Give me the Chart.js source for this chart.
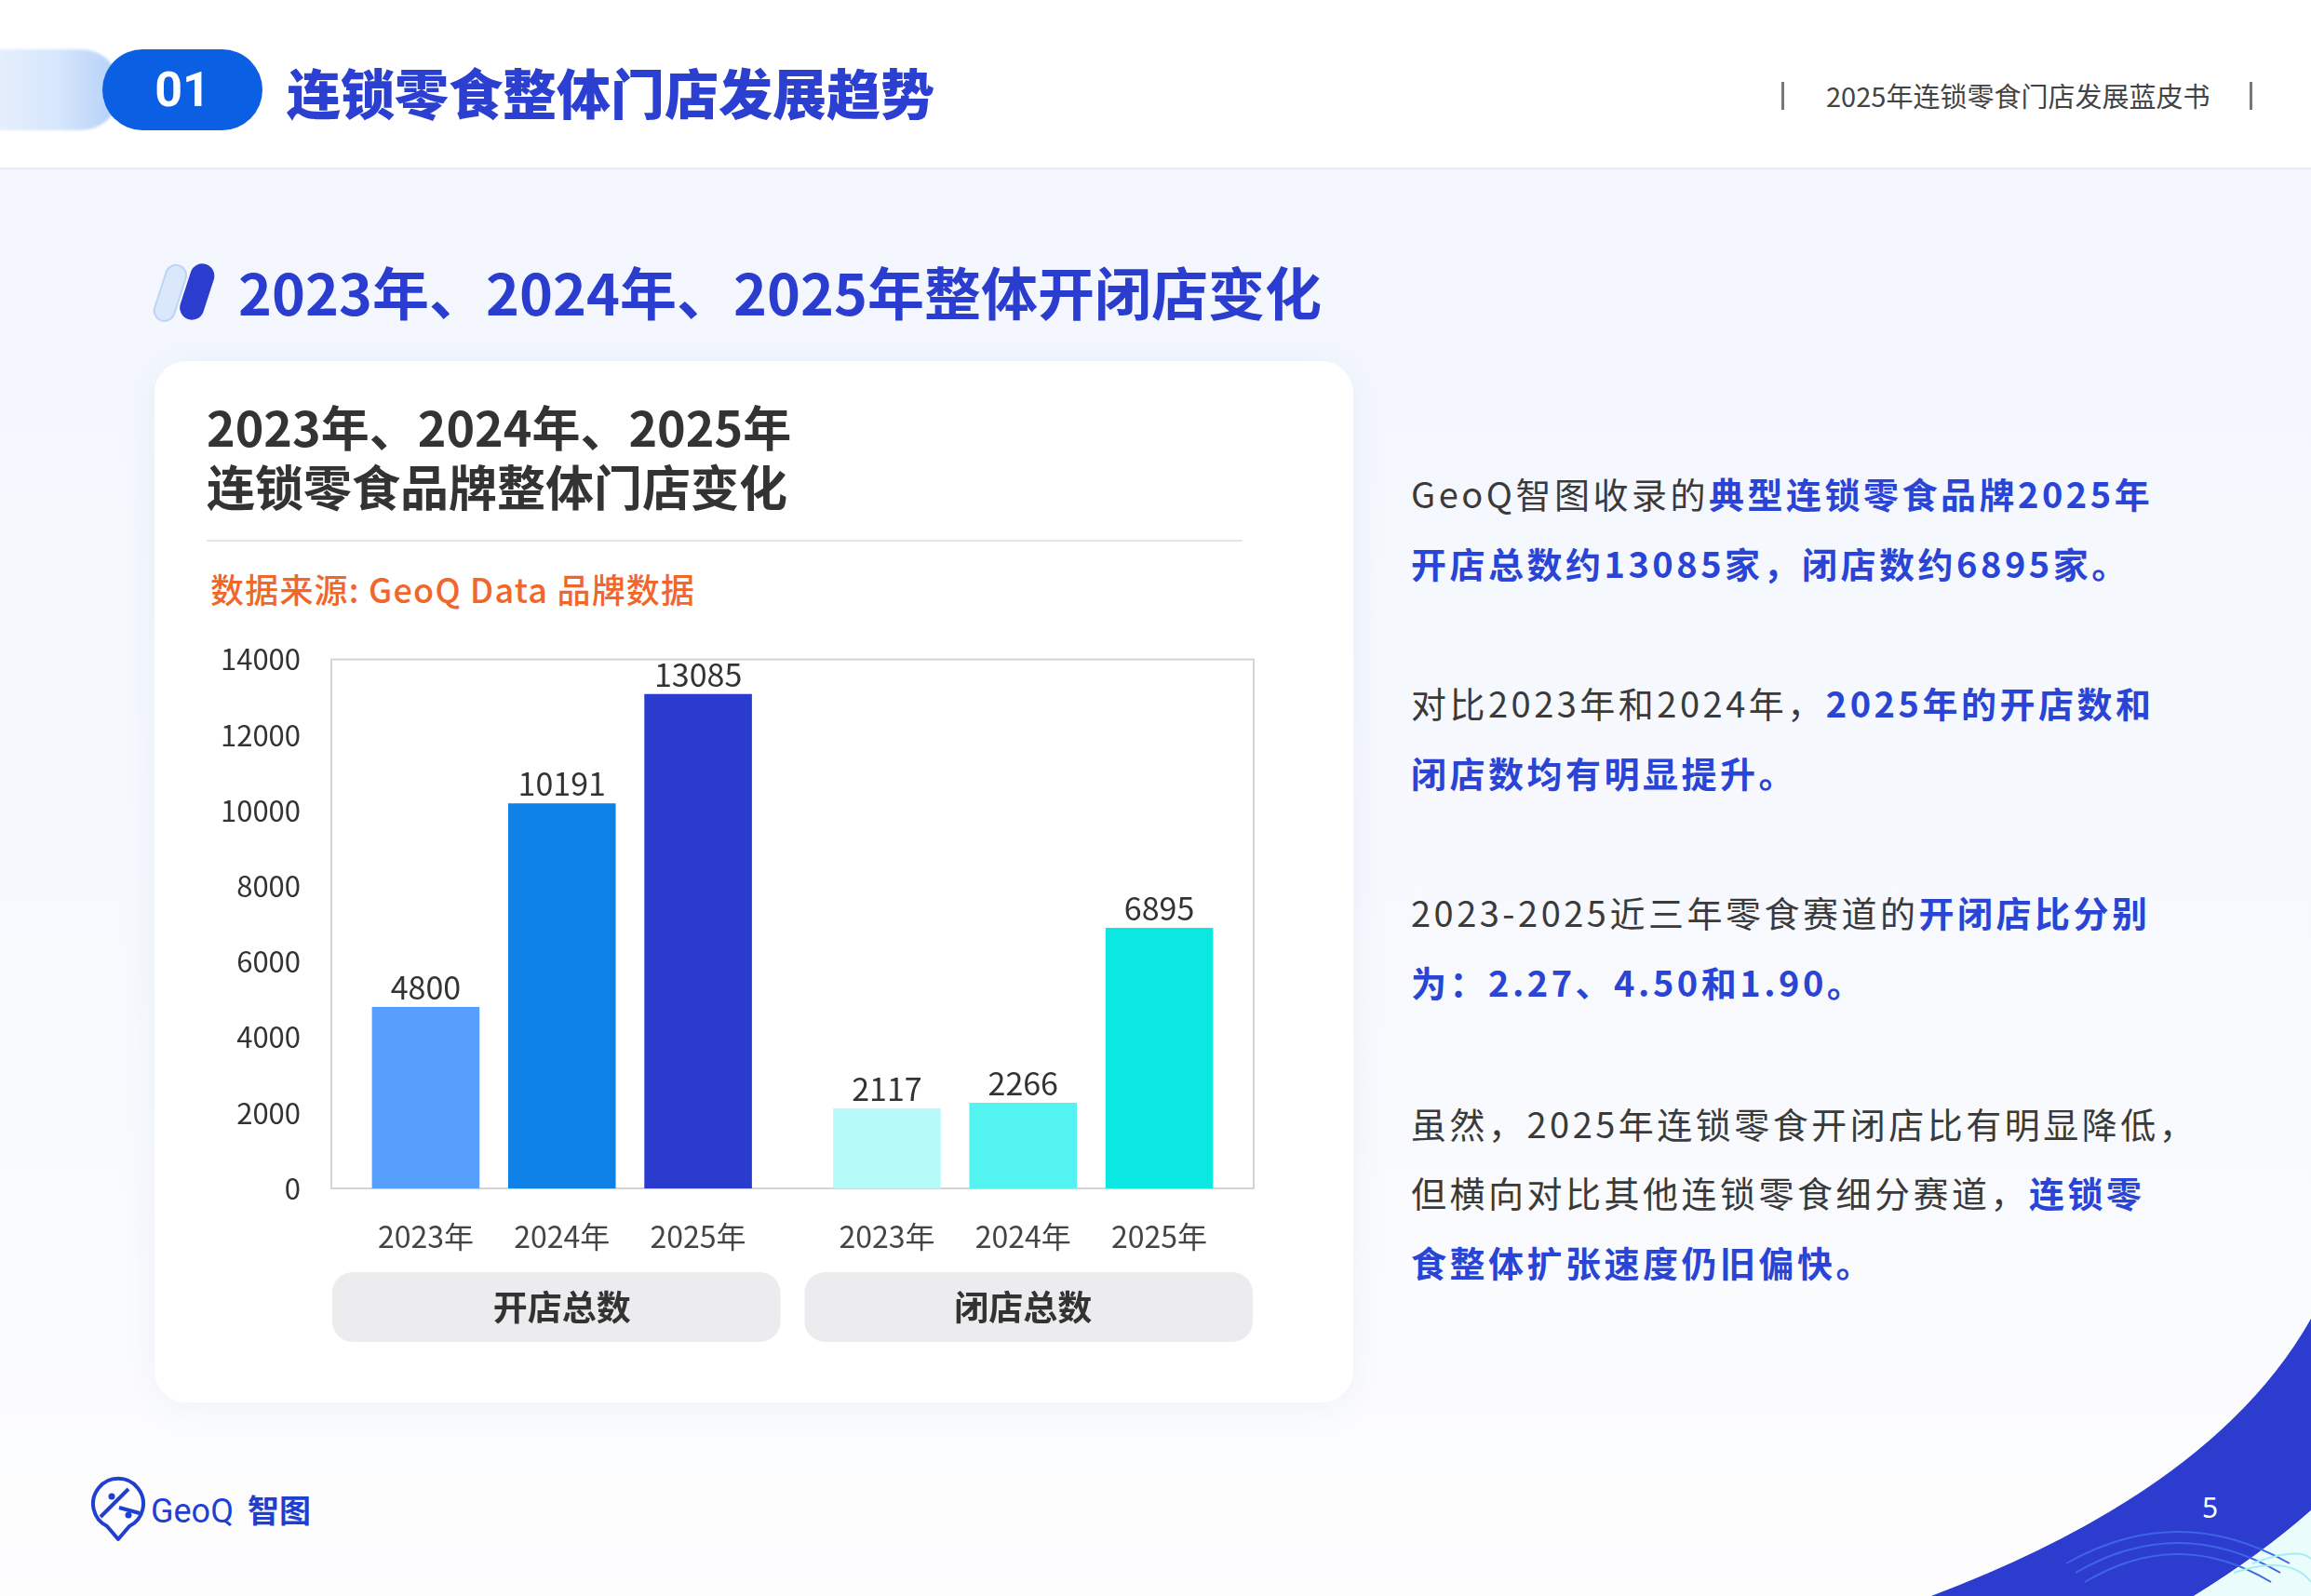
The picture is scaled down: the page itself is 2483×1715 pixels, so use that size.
<!DOCTYPE html>
<html lang="zh-CN">
<head>
<meta charset="utf-8">
<title>2023年、2024年、2025年整体开闭店变化</title>
<script src="https://cdn.jsdelivr.net/npm/chart.js@4.4.1/dist/chart.umd.min.js"></script>
<style>
  html, body { margin: 0; padding: 0; }
  body {
    width: 2483px; height: 1715px; overflow: hidden; position: relative;
    font-family: "Noto Sans CJK SC", "Noto Sans", sans-serif;
    background: #ffffff;
  }
  .panel {
    position: absolute; left: 0; top: 180px; width: 2483px; height: 1535px;
    background: linear-gradient(180deg, #f3f7fd 0%, #f7f9fd 55%, #fdfdfe 100%);
    border-top: 2px solid #e2ebf8;
  }
  .pill-light {
    position: absolute; left: -40px; top: 53px; width: 170px; height: 87px;
    border-radius: 44px;
    background: linear-gradient(90deg, #eef4fd 0%, #d6e6fb 60%, #b2cff7 100%);
    filter: blur(1.5px);
  }
  .pill-dark {
    position: absolute; left: 110px; top: 53px; width: 172px; height: 87px;
    border-radius: 44px; background: #0b5fe2;
    color: #fff; font-weight: 700; font-size: 52px; line-height: 87px; text-align: center;
    font-family: "Roboto", "Noto Sans", sans-serif;
  }
  .h-title {
    position: absolute; left: 308px; top: 58px; font-size: 58px; font-weight: 900;
    color: #2b3fd1; line-height: 80px; white-space: nowrap;
  }
  .h-right {
    position: absolute; left: 1962px; top: 82px; font-size: 29px; color: #444;
    line-height: 40px; white-space: nowrap;
  }
  .h-bar { position: absolute; top: 88px; width: 3px; height: 30px; background: #777; }
  .sec-title {
    position: absolute; left: 256px; top: 273px; font-size: 61px; font-weight: 700;
    color: #2a3dcf; line-height: 80px; white-space: nowrap;
  }
  .card {
    position: absolute; left: 166px; top: 388px; width: 1288px; height: 1119px;
    background: #ffffff; border-radius: 34px;
    box-shadow: 0 4px 40px rgba(60, 100, 180, 0.07);
  }
  .card-title {
    position: absolute; left: 222px; top: 426px; font-size: 52px; font-weight: 700;
    color: #333333; line-height: 64px; white-space: nowrap;
  }
  .divider { position: absolute; left: 222px; top: 580px; width: 1113px; height: 2px; background: #e6e6e6; }
  .source {
    position: absolute; left: 226px; top: 609px; font-size: 36px; font-weight: 500;
    color: #f0672b; line-height: 46px; white-space: nowrap; letter-spacing: 1.2px;
  }
  #chartWrap { position: absolute; left: 200px; top: 657px; width: 1200px; height: 803px; }
  .txt {
    position: absolute; left: 1516px; font-size: 38px; line-height: 75px; color: #3a3a3a;
    white-space: nowrap; letter-spacing: 3.5px;
  }
  .txt b { color: #2a44d6; font-weight: 700; }
  .logo { position: absolute; left: 98px; top: 1586px; }
  .page-no {
    position: absolute; left: 2366px; top: 1598px; font-size: 30px; color: #fff;
    font-family: "Noto Sans", sans-serif; line-height: 44px;
  }
</style>
</head>
<body>
<div class="panel"></div>

<!-- header -->
<div class="pill-light"></div>
<div class="pill-dark">01</div>
<div class="h-title">连锁零食整体门店发展趋势</div>
<div class="h-bar" style="left:1914px"></div>
<div class="h-right">2025年连锁零食门店发展蓝皮书</div>
<div class="h-bar" style="left:2417px"></div>

<!-- section title -->
<svg style="position:absolute;left:158px;top:270px" width="80" height="90">
  <rect x="0" y="0" width="22" height="62" rx="11" fill="#dbe8fb" stroke="#bcd4f6" stroke-width="2" transform="translate(24,12) rotate(18)"/>
  <rect x="0" y="0" width="26" height="62" rx="13" fill="#2a3dcf" transform="translate(51,10) rotate(18)"/>
</svg>
<div class="sec-title">2023年、2024年、2025年整体开闭店变化</div>

<!-- card -->
<div class="card"></div>
<div class="card-title">2023年、2024年、2025年<br>连锁零食品牌整体门店变化</div>
<div class="divider"></div>
<div class="source">数据来源: GeoQ Data 品牌数据</div>
<div id="chartWrap"><canvas id="storeChart"></canvas></div>

<!-- right text -->
<div class="txt" style="top:492px">GeoQ智图收录的<b>典型连锁零食品牌2025年</b></div>
<div class="txt" style="top:567px"><b>开店总数约13085家，闭店数约6895家。</b></div>
<div class="txt" style="top:717px">对比2023年和2024年，<b>2025年的开店数和</b></div>
<div class="txt" style="top:792px"><b>闭店数均有明显提升。</b></div>
<div class="txt" style="top:942px">2023-2025近三年零食赛道的<b>开闭店比分别</b></div>
<div class="txt" style="top:1017px"><b>为：2.27、4.50和1.90。</b></div>
<div class="txt" style="top:1169px">虽然，2025年连锁零食开闭店比有明显降低，</div>
<div class="txt" style="top:1243px">但横向对比其他连锁零食细分赛道，<b>连锁零</b></div>
<div class="txt" style="top:1318px"><b>食整体扩张速度仍旧偏快。</b></div>

<!-- logo -->
<svg class="logo" width="250" height="72">
  <path d="M29 68 L17 54 A27 27 0 1 1 41 54 Z" fill="none" stroke="#1f3fd0" stroke-width="4" stroke-linejoin="round"/>
  <path d="M10 44 L40 14 M30 34 L52 40" stroke="#1f3fd0" stroke-width="4" fill="none"/>
  <circle cx="22" cy="22" r="3.5" fill="#1f3fd0"/>
  <circle cx="40" cy="42" r="3.5" fill="#1f3fd0"/>
  <text x="64" y="50" font-size="36" font-family="Roboto, Noto Sans, sans-serif" fill="#1f3fd0">GeoQ</text>
  <text x="168" y="50" font-size="34" font-weight="700" font-family="Noto Sans CJK SC" fill="#1f3fd0">智图</text>
</svg>

<!-- corner swoosh -->
<svg style="position:absolute;left:2040px;top:1400px" width="443" height="315">
  <path d="M35 315 Q340 200 443 17 L443 223 Q390 270 317 315 Z" fill="#2b3ccf"/>
  <path d="M317 315 Q390 270 443 223 L443 315 Z" fill="#eafcfc"/>
  <g fill="none" stroke="#3f64e6" stroke-width="2">
    <path d="M200 300 Q300 240 400 300"/>
    <path d="M190 290 Q300 226 410 290"/>
    <path d="M180 280 Q300 212 420 280"/>
  </g>
  <g fill="none" stroke="#a7eef0" stroke-width="2">
    <path d="M360 290 Q420 270 443 300"/>
    <path d="M380 280 Q430 262 443 275"/>
  </g>
</svg>
<div class="page-no">5</div>

<script>
// chart data
const groups = ['开店总数', '闭店总数'];
const years = ['2023年', '2024年', '2025年'];
const openStores = [4800, 10191, 13085];
const closeStores = [2117, 2266, 6895];
const yMax = 14000;
const yStep = 2000;

const openColors = ['#579ffd', '#0f82e8', '#2b3bcd'];
const closeColors = ['#b6fafa', '#52f3f1', '#0be8e2'];

const FONT = '"Noto Sans CJK SC", "Noto Sans", sans-serif';

// gray boxes + per-bar year labels + value labels
const decoPlugin = {
  id: 'deco',
  beforeDraw(chart) {
    const { ctx, chartArea, scales } = chart;
    const x = scales.x;
    const w = chartArea.width / groups.length - 14;
    ctx.save();
    ctx.fillStyle = '#ececee';
    groups.forEach((g, i) => {
      const cx = x.getPixelForValue(i) + (i === 0 ? -6 : 6);
      ctx.beginPath();
      ctx.roundRect(cx - w / 2, chartArea.bottom + 90, w, 75, 22);
      ctx.fill();
    });
    ctx.restore();
  },
  beforeDatasetsDraw(chart) {
    const { ctx, chartArea } = chart;
    ctx.save();
    ctx.strokeStyle = '#d4d4d4';
    ctx.lineWidth = 2;
    ctx.strokeRect(chartArea.left, chartArea.top, chartArea.width, chartArea.height);
    ctx.restore();
  },
  afterDatasetsDraw(chart) {
    const { ctx, chartArea } = chart;
    ctx.save();
    ctx.textAlign = 'center';
    chart.data.datasets.forEach((ds, di) => {
      const meta = chart.getDatasetMeta(di);
      meta.data.forEach((bar, i) => {
        ctx.fillStyle = '#333333';
        ctx.font = '34px ' + FONT;
        ctx.textBaseline = 'bottom';
        ctx.fillText(ds.data[i], bar.x, bar.y - 4);
        ctx.fillStyle = '#444444';
        ctx.font = '32px ' + FONT;
        ctx.textBaseline = 'middle';
        ctx.fillText(ds.label, bar.x, chartArea.bottom + 52);
      });
    });
    ctx.restore();
  }
};

new Chart(document.getElementById('storeChart').getContext('2d'), {
  type: 'bar',
  data: {
    labels: groups,
    datasets: years.map((y, i) => ({
      label: y,
      data: [openStores[i], closeStores[i]],
      backgroundColor: [openColors[i], closeColors[i]],
      borderWidth: 0,
      categoryPercentage: 0.886,
      barPercentage: 0.79
    }))
  },
  options: {
    responsive: true, maintainAspectRatio: false,
    animation: false,
    layout: { padding: { top: 6, right: 53, left: 0, bottom: 0 } },
    plugins: { legend: { display: false }, tooltip: { enabled: false } },
    scales: {
      x: {
        grid: { display: false, drawTicks: false },
        border: { display: false },
        ticks: { padding: 106, color: '#333333', font: { family: FONT, size: 37, weight: 'bold' } },
        afterFit: (s) => { s.height = 183; }
      },
      y: {
        min: 0, max: yMax,
        grid: { display: false, drawTicks: false },
        border: { display: false },
        ticks: {
          stepSize: yStep, padding: 33, color: '#333333',
          font: { family: FONT, size: 31 },
          callback: (v) => String(v)
        },
        afterFit: (s) => { s.width = 156; }
      }
    }
  },
  plugins: [decoPlugin]
});
</script>
</body>
</html>
